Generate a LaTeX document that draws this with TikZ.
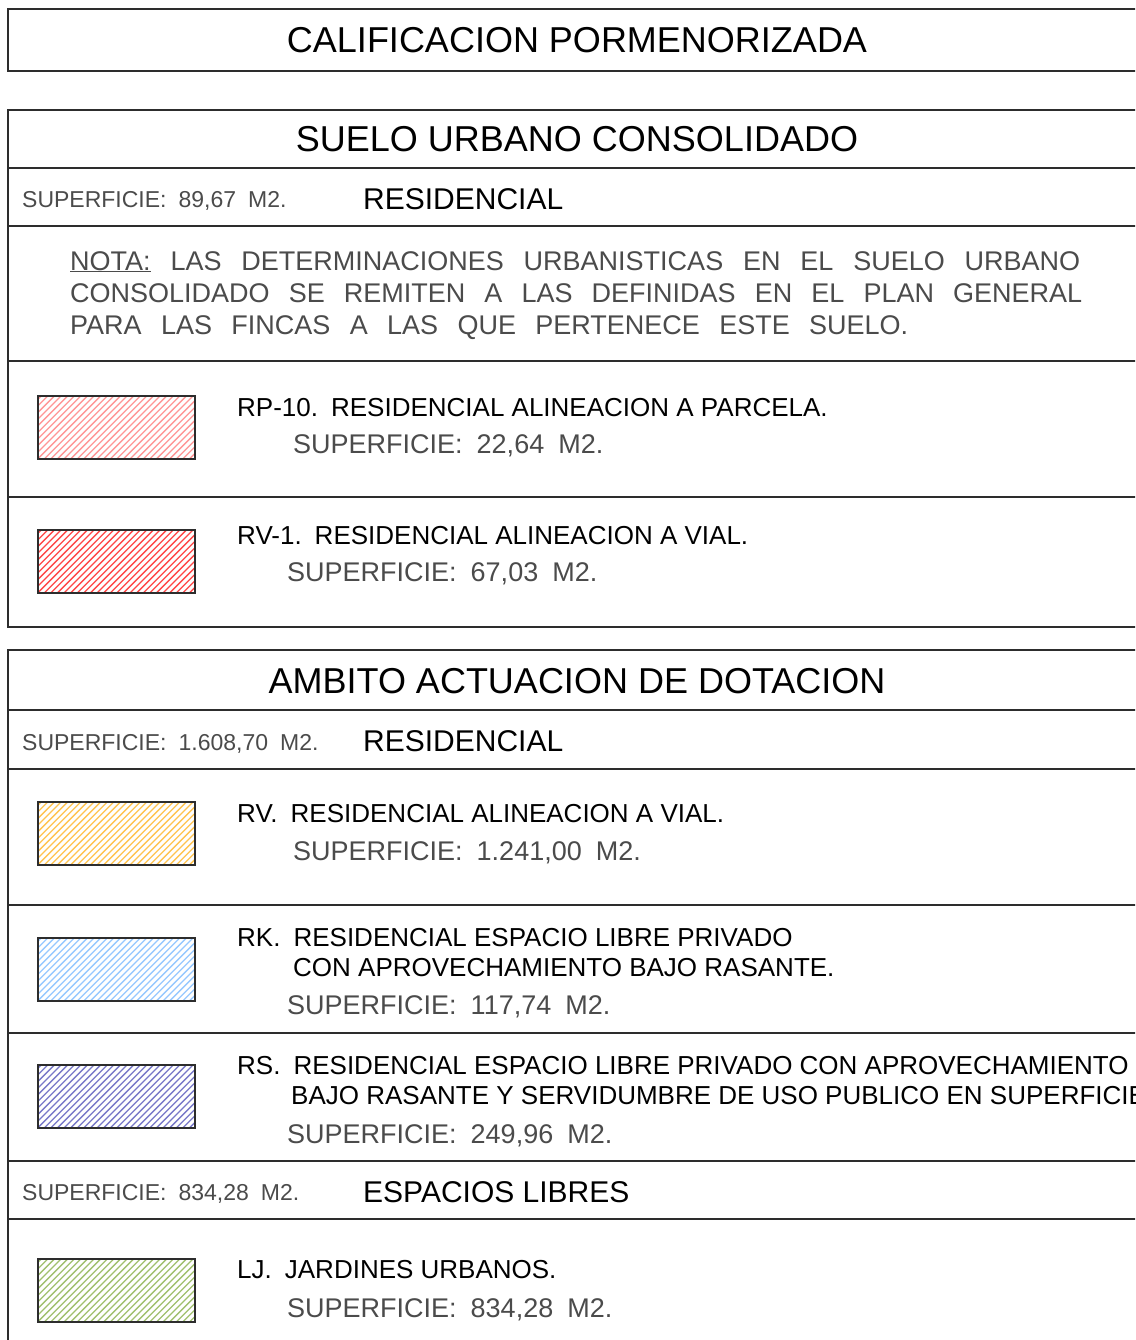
\documentclass[tikz,border=0pt]{standalone}
\usepackage{fontspec}
\setmainfont{Liberation Sans}
\newfontfamily\thinfont{Liberation Sans}
\definecolor{framec}{RGB}{45,45,45}
\definecolor{thinc}{RGB}{75,75,75}
\definecolor{hrp}{RGB}{255,150,150}
\definecolor{hrv}{RGB}{255,70,70}
\definecolor{hry}{RGB}{255,195,80}
\definecolor{hrk}{RGB}{150,200,255}
\definecolor{hrs}{RGB}{120,120,200}
\definecolor{hlj}{RGB}{160,192,110}
\newcommand{\wgap}{\hspace{13pt}}
\newcommand{\dgap}{\hspace{14pt}}
\newcommand{\sgap}{\hspace{12pt}}
\begin{document}
\begin{tikzpicture}[x=1pt,y=-1pt,
  frame/.style={draw=framec, line width=2pt},
  bigtitle/.style={font=\fontsize{36}{40}\selectfont, anchor=base, inner sep=0},
  headtxt/.style={font=\fontsize{30}{34}\selectfont, anchor=base west, inner sep=0},
  lbl/.style={font=\fontsize{26}{30}\selectfont, anchor=base west, inner sep=0},
  thin/.style={font=\thinfont\fontsize{27}{30}\selectfont, text=thinc, anchor=base west, inner sep=0},
  smallthin/.style={font=\thinfont\fontsize{23}{26}\selectfont, text=thinc, anchor=base west, inner sep=0},
  swatch/.style={draw=framec, line width=1.6pt, minimum width=157pt, minimum height=63pt,
    inner sep=0, anchor=north west,
    path picture={\foreach \k in {-11,...,25}
      \draw[#1, line width=1.3pt] ([xshift=\k*6.6pt]path picture bounding box.south west) -- ++(80pt,80pt);}}
]
\clip (0,0) rectangle (1135,1340);
\fill[white] (0,0) rectangle (1135,1340);

% frames
\draw[frame] (8,9) rectangle (1150,71);
\draw[frame] (8,110) rectangle (1150,627);
\foreach \yy in {168,226,361,497} \draw[frame] (8,\yy) -- (1150,\yy);
\draw[frame] (8,650) rectangle (1150,1360);
\foreach \yy in {710,769,905,1033,1161,1219} \draw[frame] (8,\yy) -- (1150,\yy);

% titles
\node[bigtitle] (t1) at (577,53) {CALIFICACION PORMENORIZADA};
\node[bigtitle] (t2) at (577,152) {SUELO URBANO CONSOLIDADO};
\node[bigtitle] (t3) at (577,693) {AMBITO ACTUACION DE DOTACION};

% header rows
\node[smallthin] (s1) at (22,208) {SUPERFICIE:\sgap 89,67\sgap M2.};
\node[headtxt] (h1) at (363,209.5) {RESIDENCIAL};
\node[smallthin] (s2) at (22,750) {SUPERFICIE:\sgap 1.608,70\sgap M2.};
\node[headtxt] (h2) at (363,751.5) {RESIDENCIAL};
\node[smallthin] (s3) at (22,1200) {SUPERFICIE:\sgap 834,28\sgap M2.};
\node[headtxt] (h3) at (363,1202) {ESPACIOS LIBRES};

% nota
\node[thin] (n1) at (70,270) {\makebox[1010pt][s]{\underline{NOTA:} LAS DETERMINACIONES URBANISTICAS EN EL SUELO URBANO}};
\node[thin] (n2) at (70,302) {\makebox[1012pt][s]{CONSOLIDADO SE REMITEN A LAS DEFINIDAS EN EL PLAN GENERAL}};
\node[thin] (n3) at (70,334) {\makebox[838pt][s]{PARA LAS FINCAS A LAS QUE PERTENECE ESTE SUELO.}};

% swatches
\node[swatch=hrp] (w1) at (37,395) {};
\node[swatch=hrv] (w2) at (37,529) {};
\node[swatch=hry] (w3) at (37,801) {};
\node[swatch=hrk] (w4) at (37,937) {};
\node[swatch=hrs] (w5) at (37,1064) {};
\node[swatch=hlj] (w6) at (37,1258) {};

% labels
\node[lbl] (l1) at (237,416) {RP-10.\wgap RESIDENCIAL ALINEACION A PARCELA.};
\node[thin] (p1) at (293,453) {SUPERFICIE:\dgap 22,64\dgap M2.};
\node[lbl] (l2) at (237,544) {RV-1.\wgap RESIDENCIAL ALINEACION A VIAL.};
\node[thin] (p2) at (287,581) {SUPERFICIE:\dgap 67,03\dgap M2.};
\node[lbl] (l3) at (237,822) {RV.\wgap RESIDENCIAL ALINEACION A VIAL.};
\node[thin] (p3) at (293,860) {SUPERFICIE:\dgap 1.241,00\dgap M2.};
\node[lbl] (l4) at (237,946) {RK.\wgap RESIDENCIAL ESPACIO LIBRE PRIVADO};
\node[lbl] (l4b) at (293,976) {CON APROVECHAMIENTO BAJO RASANTE.};
\node[thin] (p4) at (287,1014) {SUPERFICIE:\dgap 117,74\dgap M2.};
\node[lbl] (l5) at (237,1074) {RS.\wgap RESIDENCIAL ESPACIO LIBRE PRIVADO CON APROVECHAMIENTO};
\node[lbl] (l5b) at (291,1104) {BAJO RASANTE Y SERVIDUMBRE DE USO PUBLICO EN SUPERFICIE};
\node[thin] (p5) at (287,1143) {SUPERFICIE:\dgap 249,96\dgap M2.};
\node[lbl] (l6) at (237,1278) {LJ.\wgap JARDINES URBANOS.};
\node[thin] (p6) at (287,1317) {SUPERFICIE:\dgap 834,28\dgap M2.};
\end{tikzpicture}
\end{document}
